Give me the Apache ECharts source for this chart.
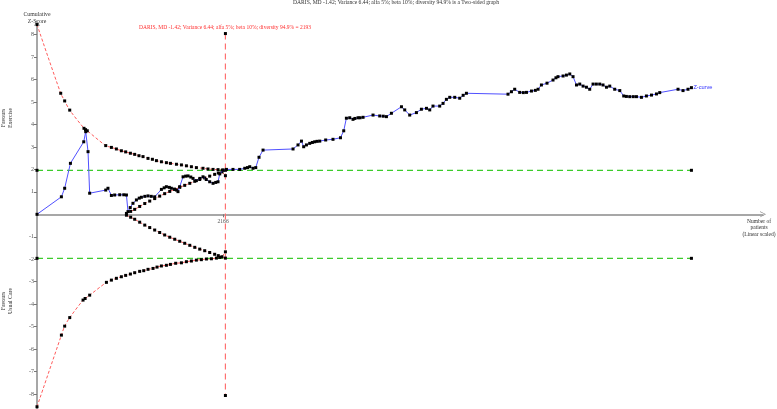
<!DOCTYPE html>
<html>
<head>
<meta charset="utf-8">
<script src="https://cdn.jsdelivr.net/npm/echarts@6/dist/echarts.min.js"></script>
<style>
  html, body { margin: 0; padding: 0; background: #fff; }
  #chart { width: 777px; height: 409px; }
</style>
</head>
<body>
<div id="chart"></div>
<script>
// patients (x) and cumulative z (y)
var zCurve = [
  [0, 0], [284, 0.78], [322, 1.16], [389, 2.27], [544, 3.23], [567, 3.68], [594, 2.79],
  [613, 0.94], [800, 1.08], [826, 1.16], [866, 0.84], [904, 0.86], [963, 0.87], [1010, 0.87], [1041, 0.86],
  [1059, 0.12], [1085, 0.3], [1117, 0.49], [1157, 0.64], [1190, 0.72], [1215, 0.76], [1255, 0.8], [1292, 0.82],
  [1330, 0.8], [1370, 0.78], [1448, 1.11], [1480, 1.18], [1506, 1.23], [1540, 1.2], [1564, 1.16],
  [1600, 1.12], [1623, 1.08], [1641, 1.01], [1661, 1.23], [1700, 1.67], [1730, 1.7], [1758, 1.71],
  [1790, 1.66], [1816, 1.6], [1855, 1.5], [1895, 1.6], [1932, 1.67], [1970, 1.55], [2010, 1.45],
  [2049, 1.38], [2080, 1.42], [2107, 1.45], [2127, 1.8], [2166, 1.97], [2205, 2.0], [2281, 2.0],
  [2359, 2.0], [2418, 2.05], [2450, 2.08], [2476, 2.12], [2514, 2.05], [2546, 2.08], [2584, 2.54],
  [2631, 2.86], [2980, 2.91], [3038, 3.09], [3078, 3.26], [3104, 3.01], [3136, 3.09], [3174, 3.16],
  [3205, 3.2], [3232, 3.23], [3260, 3.25], [3291, 3.26], [3360, 3.31], [3445, 3.34], [3532, 3.41],
  [3570, 3.72], [3601, 4.28], [3640, 4.3], [3678, 4.23], [3700, 4.27], [3736, 4.3], [3760, 4.3],
  [3795, 4.32], [3911, 4.42], [3989, 4.38], [4030, 4.37], [4067, 4.35], [4125, 4.5], [4242, 4.79],
  [4280, 4.65], [4338, 4.42], [4416, 4.53], [4474, 4.68], [4533, 4.72], [4571, 4.65], [4609, 4.82],
  [4687, 4.82], [4726, 4.94], [4765, 5.12], [4804, 5.21], [4862, 5.21], [4920, 5.17], [4960, 5.3],
  [4998, 5.39], [5482, 5.35], [5522, 5.46], [5560, 5.57], [5618, 5.43], [5660, 5.42], [5697, 5.43],
  [5755, 5.49], [5800, 5.52], [5832, 5.57], [5871, 5.76], [5936, 5.84], [6006, 5.98], [6040, 6.08],
  [6064, 6.13], [6123, 6.16], [6162, 6.2], [6201, 6.25], [6239, 6.13], [6279, 5.76], [6317, 5.8],
  [6356, 5.71], [6395, 5.66], [6433, 5.57], [6472, 5.8], [6510, 5.8], [6550, 5.8], [6588, 5.76],
  [6628, 5.66], [6666, 5.71], [6724, 5.57], [6783, 5.51], [6829, 5.27], [6860, 5.25], [6899, 5.24],
  [6940, 5.24], [6977, 5.24], [7035, 5.21], [7093, 5.27], [7152, 5.31], [7210, 5.36], [7248, 5.42],
  [7461, 5.57], [7519, 5.51], [7577, 5.57], [7617, 5.64]
];

var upperBound = [
  [0, 8.45], [276, 5.39], [322, 5.05], [381, 4.64], [547, 3.83], [565, 3.77], [585, 3.72],
  [800, 3.06], [866, 2.98], [924, 2.91], [982, 2.83], [1032, 2.78], [1087, 2.72], [1137, 2.67],
  [1187, 2.61], [1234, 2.57], [1292, 2.49], [1343, 2.45], [1390, 2.39], [1448, 2.34], [1506, 2.3],
  [1553, 2.27], [1623, 2.23], [1681, 2.2], [1739, 2.16], [1797, 2.12], [1855, 2.08], [1932, 2.05],
  [1990, 2.02], [2049, 2.0], [2107, 1.99], [2158, 1.97], [2193, 1.96]
];

var lowerBound = [
  [0, -8.57], [284, -5.38], [322, -4.98], [381, -4.6], [536, -3.82], [560, -3.75], [613, -3.6],
  [808, -3.03], [866, -2.93], [924, -2.85], [982, -2.78], [1032, -2.72], [1087, -2.66], [1137, -2.6],
  [1195, -2.54], [1242, -2.51], [1292, -2.45], [1350, -2.41], [1397, -2.35], [1448, -2.3],
  [1506, -2.27], [1553, -2.23], [1614, -2.18], [1681, -2.16], [1739, -2.11], [1797, -2.08],
  [1855, -2.04], [1913, -2.02], [1972, -1.99], [2030, -1.98], [2088, -1.95], [2127, -1.92], [2193, -1.95]
];

var futilityUpper = [
  [1041, 0.04], [1090, 0.13], [1137, 0.22], [1195, 0.35], [1254, 0.48], [1312, 0.59], [1370, 0.7],
  [1428, 0.81], [1486, 0.92], [1545, 1.02], [1603, 1.11], [1661, 1.2], [1719, 1.29], [1778, 1.38],
  [1836, 1.47], [1894, 1.55], [1952, 1.62], [2010, 1.7], [2068, 1.78], [2110, 1.84], [2153, 1.89],
  [2193, 1.72]
];

var futilityLower = [
  [1041, -0.04], [1090, -0.13], [1137, -0.22], [1195, -0.35], [1254, -0.48], [1312, -0.59], [1370, -0.7],
  [1428, -0.81], [1486, -0.92], [1545, -1.02], [1603, -1.11], [1661, -1.2], [1719, -1.29], [1778, -1.38],
  [1836, -1.47], [1894, -1.55], [1952, -1.62], [2010, -1.7], [2068, -1.78], [2110, -1.84], [2153, -1.89],
  [2193, -1.67]
];

var conventional = 1.96;
var lastPatients = 7617;
var requiredSize = 2193;
var risTop = 8.05;
var risBottom = -8.07;

var yTicks = [-8, -7, -6, -5, -4, -3, -2, -1, 1, 2, 3, 4, 5, 6, 7, 8];
var xTicks = [2166];

var serif = '"Liberation Serif", "Times New Roman", serif';
var chevron = 'path://M0,10 L5,0 L10,10 L9,10 L5,2 L1,10 Z';

var chart = echarts.init(document.getElementById('chart'), null, { renderer: 'canvas' });

function dotted(name, data, color, width, dash) {
  return {
    name: name,
    type: 'line',
    data: data,
    symbol: 'rect',
    symbolSize: 3,
    showAllSymbol: true,
    itemStyle: { color: '#000' },
    lineStyle: { color: color, width: width, type: dash },
    emphasis: { disabled: true },
    z: 2
  };
}

var option = {
  animation: false,
  backgroundColor: '#fff',
  grid: { left: 37, right: 14, top: 23, bottom: 0, containLabel: false, outerBoundsMode: 'none' },
  xAxis: {
    type: 'value',
    min: 0,
    max: 8450,
    position: 'bottom',
    offset: -194.7,
    splitLine: { show: false },
    axisLine: {
      onZero: false,
      lineStyle: { color: '#8a8a8a', width: 1.5 },
      symbol: ['none', chevron],
      symbolSize: [7, 6]
    },
    axisTick: { show: true, length: 3, inside: false, customValues: xTicks, lineStyle: { color: '#777' } },
    axisLabel: {
      customValues: xTicks,
      formatter: function (v) { return String(v); },
      fontSize: 5.6,
      fontFamily: serif,
      color: '#555',
      margin: 4
    }
  },
  yAxis: {
    type: 'value',
    min: -8.67,
    max: 8.52,
    splitLine: { show: false },
    axisLine: {
      show: true,
      onZero: false,
      lineStyle: { color: '#8a8a8a', width: 1.5 },
      symbol: ['none', chevron],
      symbolSize: [7, 6]
    },
    axisTick: { show: true, length: 3, customValues: yTicks, lineStyle: { color: '#777' } },
    axisLabel: {
      customValues: yTicks,
      fontSize: 6,
      fontFamily: serif,
      color: '#555',
      margin: 3
    }
  },
  series: [
    Object.assign(dotted('upper', upperBound, '#ff5c5c', 1, [3, 2]), { smooth: 0.3 }),
    Object.assign(dotted('lower', lowerBound, '#ff5c5c', 1, [3, 2]), { smooth: 0.3 }),
    dotted('futilityUpper', futilityUpper, '#ff5c5c', 1, [3, 2]),
    dotted('futilityLower', futilityLower, '#ff5c5c', 1, [3, 2]),
    dotted('plus', [[0, conventional], [lastPatients, conventional]], '#3ccc2c', 1.3, [6, 4]),
    dotted('minus', [[0, -conventional], [lastPatients, -conventional]], '#3ccc2c', 1.3, [6, 4]),
    dotted('ris', [[requiredSize, risTop], [requiredSize, risBottom]], '#ff7070', 1.2, [6, 4]),
    Object.assign(dotted('Z-curve', zCurve, '#5050ff', 1, 'solid'), {
      z: 5,
      endLabel: {
        show: true,
        formatter: 'Z-curve',
        color: '#3030ff',
        fontSize: 5.6,
        fontFamily: 'Liberation Sans, Arial, sans-serif',
        distance: 2
      }
    })
  ],
  graphic: [
    {
      type: 'text',
      x: 396, y: 3,
      style: {
        text: 'DARIS, MD -1.42; Variance 6.44; alfa 5%; beta 10%; diversity 94.9% is a Two-sided graph',
        font: '5.6px ' + serif, fill: '#333',
        textAlign: 'center', textVerticalAlign: 'middle', align: 'center', verticalAlign: 'middle'
      }
    },
    {
      type: 'text',
      x: 139, y: 28,
      style: {
        text: 'DARIS, MD -1.42; Variance 6.44; alfa 5%; beta 10%; diversity 94.9% = 2193',
        font: '5.5px ' + serif, fill: '#ff3030',
        textAlign: 'left', textVerticalAlign: 'middle', align: 'left', verticalAlign: 'middle'
      }
    },
    {
      type: 'text',
      x: 37, y: 18,
      style: {
        text: 'Cumulative\nZ-Score', lineHeight: 6.5,
        font: '5.8px ' + serif, fill: '#333',
        textAlign: 'center', textVerticalAlign: 'middle', align: 'center', verticalAlign: 'middle'
      }
    },
    {
      type: 'text',
      x: 7, y: 118, rotation: Math.PI / 2,
      style: {
        text: 'Favours\nExercise', lineHeight: 6.5,
        font: '5.8px ' + serif, fill: '#333',
        textAlign: 'center', textVerticalAlign: 'middle', align: 'center', verticalAlign: 'middle'
      }
    },
    {
      type: 'text',
      x: 7, y: 301, rotation: Math.PI / 2,
      style: {
        text: 'Favours\nUsual Care', lineHeight: 6.5,
        font: '5.8px ' + serif, fill: '#333',
        textAlign: 'center', textVerticalAlign: 'middle', align: 'center', verticalAlign: 'middle'
      }
    },
    {
      type: 'text',
      x: 759, y: 228,
      style: {
        text: 'Number of\npatients\n(Linear scaled)', lineHeight: 6.8,
        font: '5.5px ' + serif, fill: '#333',
        textAlign: 'center', textVerticalAlign: 'middle', align: 'center', verticalAlign: 'middle'
      }
    }
  ]
};

chart.setOption(option);
</script>
</body>
</html>
